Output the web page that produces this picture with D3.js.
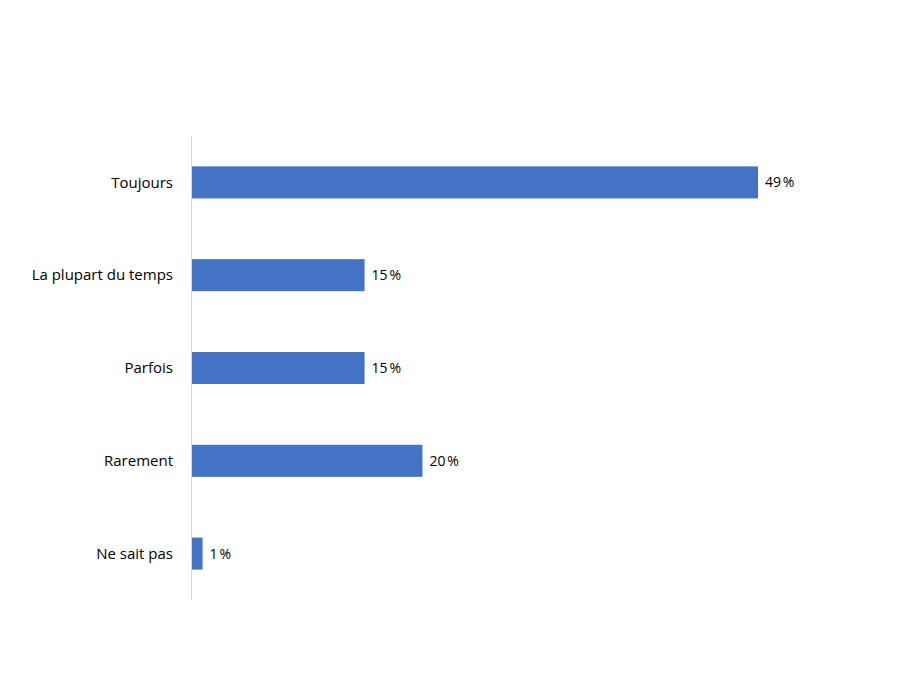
<!DOCTYPE html>
<html><head><meta charset="utf-8">
<script src="https://cdn.jsdelivr.net/npm/d3@7"></script>
<style>body{margin:0;background:#fff}svg{font-family:"Open Sans",sans-serif}</style>
</head><body><div id="chart"></div>
<script>
const categories = ["Toujours","La plupart du temps","Parfois","Rarement","Ne sait pas"];
const values = [49,15,15,20,1];
const valueLabels = ["49\u202F%","15\u202F%","15\u202F%","20\u202F%","1\u202F%"];

const w = 900, h = 675;
const svg = d3.select("#chart").append("svg").attr("width", w).attr("height", h);

const xScale = d3.scaleLinear().domain([0, 49]).range([191, 758]);
const yScale = d3.scaleBand().domain(categories).range([136, 600])
  .paddingInner(0.655).paddingOuter(0.3275);

svg.selectAll("rect").data(values).enter().append("rect")
  .attr("x", xScale(0))
  .attr("y", (d,i) => yScale(categories[i]))
  .attr("width", d => xScale(d) - xScale(0))
  .attr("height", yScale.bandwidth())
  .attr("fill", "#4472C4");

svg.append("line").attr("x1",191.5).attr("x2",191.5).attr("y1",136).attr("y2",600)
  .attr("stroke","#d9d9d9");

svg.selectAll(".cat").data(categories).enter().append("text")
  .attr("x", 173).attr("y", d => yScale(d) + yScale.bandwidth()/2)
  .attr("dy","0.35em").attr("text-anchor","end")
  .attr("font-size",15).attr("fill","#000").text(d => d);

svg.selectAll(".val").data(values).enter().append("text")
  .attr("x", d => xScale(d) + 7)
  .attr("y", (d,i) => yScale(categories[i]) + yScale.bandwidth()/2)
  .attr("dy","0.35em").attr("font-size",14).attr("fill","#000")
  .text((d,i) => valueLabels[i]);
</script></body></html>
